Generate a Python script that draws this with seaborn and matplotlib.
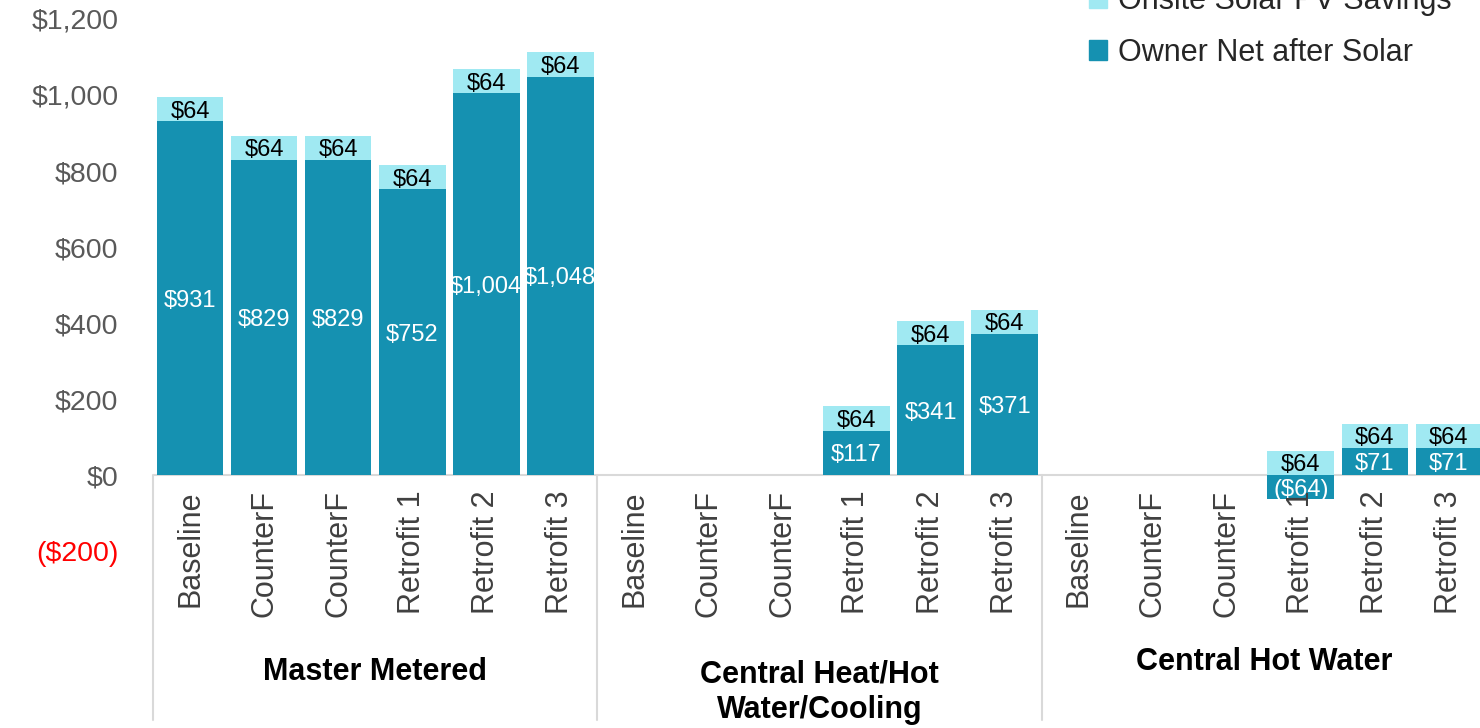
import pandas as pd
import seaborn as sns
import matplotlib.pyplot as plt
import matplotlib.transforms as mtransforms
from matplotlib.patches import Patch
from matplotlib.lines import Line2D

groups = ['Master Metered', 'Central Heat/Hot\nWater/Cooling', 'Central Hot Water']
scenarios = ['Baseline', 'CounterF', 'CounterF', 'Retrofit 1', 'Retrofit 2', 'Retrofit 3']
owner_net = [931, 829, 829, 752, 1004, 1048,
             0, 0, 0, 117, 341, 371,
             0, 0, 0, -64, 71, 71]
solar_savings = [64, 64, 64, 64, 64, 64,
                 0, 0, 0, 64, 64, 64,
                 0, 0, 0, 64, 64, 64]
yticks = [-200, 0, 200, 400, 600, 800, 1000, 1200]

dark = '#1591B1'
light = '#A0E9F2'

sns.set_theme(style='white')
plt.rcParams['font.family'] = ['Liberation Sans', 'DejaVu Sans']

keys = [f'{g}|{s}|{i}' for i, (g, s) in enumerate((g, s) for g in groups for s in scenarios)]
df = pd.DataFrame({'slot': keys, 'owner_net': owner_net, 'solar': solar_savings})
# solar stacked on the positive side, drawn behind the owner bar
df['solar_top'] = df['owner_net'].clip(lower=0) + df['solar']

fig = plt.figure(figsize=(14.8, 7.28), dpi=100)
ax = fig.add_axes([153 / 1480, 1 - 551 / 728, 1 - 153 / 1480, 551 / 728])

sns.barplot(data=df, x='slot', y='solar_top', order=keys, color=light, saturation=1,
            width=0.9, errorbar=None, ax=ax, zorder=2, linewidth=0)
sns.barplot(data=df, x='slot', y='owner_net', order=keys, color=dark, saturation=1,
            width=0.9, errorbar=None, ax=ax, zorder=3, linewidth=0)

ax.set_xlim(-0.5, 17.42)
ax.set_ylim(-200, 1250)
for sp in ax.spines.values():
    sp.set_visible(False)
ax.axhline(0, color='#d9d9d9', lw=1.5, zorder=1)
ax.set_xlabel('')
ax.set_ylabel('')
ax.set_xticklabels([])
ax.tick_params(axis='x', length=0)

ax.set_yticks(yticks)
ylabels = [f'(${-v:,})' if v < 0 else f'${v:,}' for v in yticks]
ax.set_yticklabels(ylabels, fontsize=20.5, color='#595959')
ax.tick_params(axis='y', length=0, pad=25)
for t, v in zip(ax.get_yticklabels(), yticks):
    if v < 0:
        t.set_color('red')

# data labels
for i, (o, s) in enumerate(zip(owner_net, solar_savings)):
    if o != 0:
        txt = f'(${-o:,})' if o < 0 else f'${o:,}'
        ax.text(i, o / 2, txt, ha='center', va='center_baseline', fontsize=17,
                color='white', zorder=5)
    if s != 0:
        ax.text(i, max(o, 0) + s / 2, f'${s:,}', ha='center', va='center_baseline',
                fontsize=17, color='black', zorder=5)

# category labels under the zero line
for i, s in enumerate(scenarios * len(groups)):
    ax.text(i, -40, s, rotation=90, ha='center', va='top', fontsize=22,
            color='#404040', clip_on=False)

trans = mtransforms.blended_transform_factory(ax.transData, fig.transFigure)
group_y = [672, 692, 662]
for k, (g, gy) in enumerate(zip(groups, group_y)):
    fig.text(k * 6 + 2.5, 1 - gy / 728, g, transform=trans, ha='center', va='center',
             fontsize=22, fontweight='bold', color='black', linespacing=1.25)

for xs in [-0.5, 5.5, 11.5, 17.5]:
    fig.add_artist(Line2D([xs, xs], [1 - 475 / 728, 1 - 720 / 728], transform=trans,
                          color='#d9d9d9', lw=1.5))

handles = [Patch(color=light, label='Onsite Solar PV Savings'),
           Patch(color=dark, label='Owner Net after Solar')]
fig.legend(handles=handles, loc='center left', bbox_to_anchor=(1089 / 1480, 1 - 27 / 728),
           frameon=False, fontsize=22, handlelength=0.6, handleheight=0.6,
           handletextpad=0.35, labelspacing=0.7, borderpad=0, borderaxespad=0)

fig.savefig('out.png', dpi=100)
